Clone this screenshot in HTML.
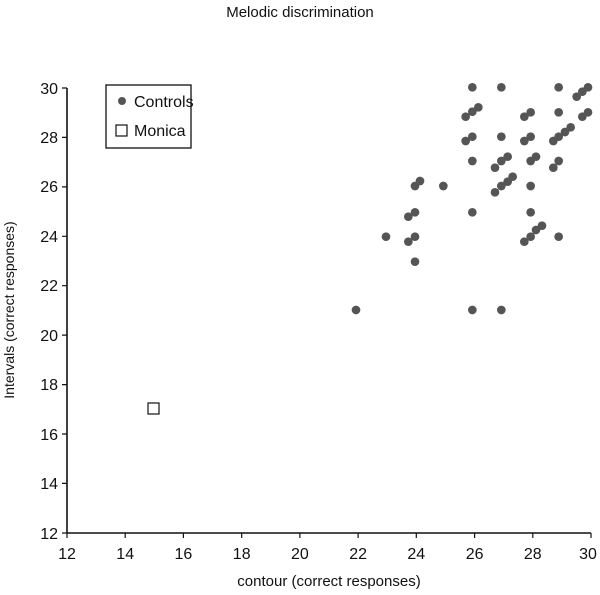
<!DOCTYPE html>
<html><head><style>body{margin:0;background:#fff}svg{display:block}text{font-family:"Liberation Sans",Arial,sans-serif;fill:#111}</style></head>
<body>
<svg width="600" height="595" viewBox="0 0 600 595">
<text x="300" y="17" font-size="15" text-anchor="middle">Melodic discrimination</text>
<g stroke="#111" stroke-width="1.6" fill="none">
<line x1="67" y1="88" x2="67" y2="533"/>
<line x1="67" y1="533" x2="591" y2="533"/>
<path d="M62 88H67M62 137.4H67M62 186.9H67M62 236.3H67M62 285.7H67M62 335.1H67M62 384.6H67M62 434H67M62 483.4H67M62 533H67" stroke-width="1.2"/>
<path d="M67 533V538M125.2 533V538M183.4 533V538M241.7 533V538M299.9 533V538M358.1 533V538M416.3 533V538M474.6 533V538M532.8 533V538M591 533V538" stroke-width="1.2"/>
</g>
<g font-size="16" text-anchor="end">
<text x="58" y="94">30</text><text x="58" y="143">28</text><text x="58" y="192">26</text><text x="58" y="242">24</text><text x="58" y="291">22</text><text x="58" y="341">20</text><text x="58" y="390">18</text><text x="58" y="440">16</text><text x="58" y="489">14</text><text x="58" y="539">12</text>
</g>
<g font-size="16" text-anchor="middle">
<text x="67" y="559">12</text><text x="125.2" y="559">14</text><text x="183.4" y="559">16</text><text x="241.7" y="559">18</text><text x="299.9" y="559">20</text><text x="358.1" y="559">22</text><text x="416.3" y="559">24</text><text x="474.6" y="559">26</text><text x="532.8" y="559">28</text><text x="588" y="559">30</text>
</g>
<text x="329" y="586" font-size="15" text-anchor="middle">contour (correct responses)</text>
<text transform="translate(14 310) rotate(-90)" font-size="14" text-anchor="middle">Intervals (correct responses)</text>
<rect x="106" y="85" width="85" height="63" fill="#fff" stroke="#111" stroke-width="1.3"/>
<circle cx="122" cy="101" r="4" fill="#555"/>
<text x="134" y="107" font-size="16">Controls</text>
<rect x="116" y="125" width="11" height="11" fill="#fff" stroke="#111" stroke-width="1.2"/>
<text x="134" y="136" font-size="16">Monica</text>
<rect x="148" y="403" width="11" height="11" fill="#fff" stroke="#111" stroke-width="1.2"/>
<g transform="translate(340 70) scale(0.33333)" fill="#555">
<circle cx="397" cy="52" r="13"/><circle cx="484" cy="52" r="13"/><circle cx="656" cy="52" r="13"/><circle cx="710" cy="80" r="13"/><circle cx="727" cy="65" r="13"/><circle cx="744" cy="52" r="13"/>
<circle cx="377" cy="140" r="13"/><circle cx="397" cy="125" r="13"/><circle cx="415" cy="112" r="13"/><circle cx="553" cy="140" r="13"/><circle cx="572" cy="127" r="13"/><circle cx="656" cy="127" r="13"/><circle cx="727" cy="140" r="13"/><circle cx="744" cy="127" r="13"/>
<circle cx="377" cy="213" r="13"/><circle cx="397" cy="200" r="13"/><circle cx="484" cy="200" r="13"/><circle cx="553" cy="213" r="13"/><circle cx="572" cy="200" r="13"/><circle cx="640" cy="213" r="13"/><circle cx="656" cy="200" r="13"/><circle cx="675" cy="186" r="13"/><circle cx="692" cy="172" r="13"/>
<circle cx="397" cy="273" r="13"/><circle cx="465" cy="293" r="13"/><circle cx="484" cy="273" r="13"/><circle cx="503" cy="260" r="13"/><circle cx="572" cy="273" r="13"/><circle cx="588" cy="260" r="13"/><circle cx="640" cy="293" r="13"/><circle cx="656" cy="273" r="13"/>
<circle cx="225" cy="348" r="13"/><circle cx="240" cy="333" r="13"/><circle cx="310" cy="348" r="13"/><circle cx="465" cy="367" r="13"/><circle cx="484" cy="348" r="13"/><circle cx="503" cy="335" r="13"/><circle cx="518" cy="320" r="13"/><circle cx="572" cy="348" r="13"/>
<circle cx="205" cy="440" r="13"/><circle cx="225" cy="427" r="13"/><circle cx="397" cy="427" r="13"/><circle cx="572" cy="427" r="13"/>
<circle cx="138" cy="500" r="13"/><circle cx="205" cy="515" r="13"/><circle cx="225" cy="500" r="13"/><circle cx="553" cy="515" r="13"/><circle cx="572" cy="500" r="13"/><circle cx="588" cy="480" r="13"/><circle cx="606" cy="467" r="13"/><circle cx="656" cy="500" r="13"/>
<circle cx="225" cy="575" r="13"/>
<circle cx="48" cy="720" r="13"/><circle cx="397" cy="720" r="13"/><circle cx="484" cy="720" r="13"/>
</g>
</svg>
</body></html>
